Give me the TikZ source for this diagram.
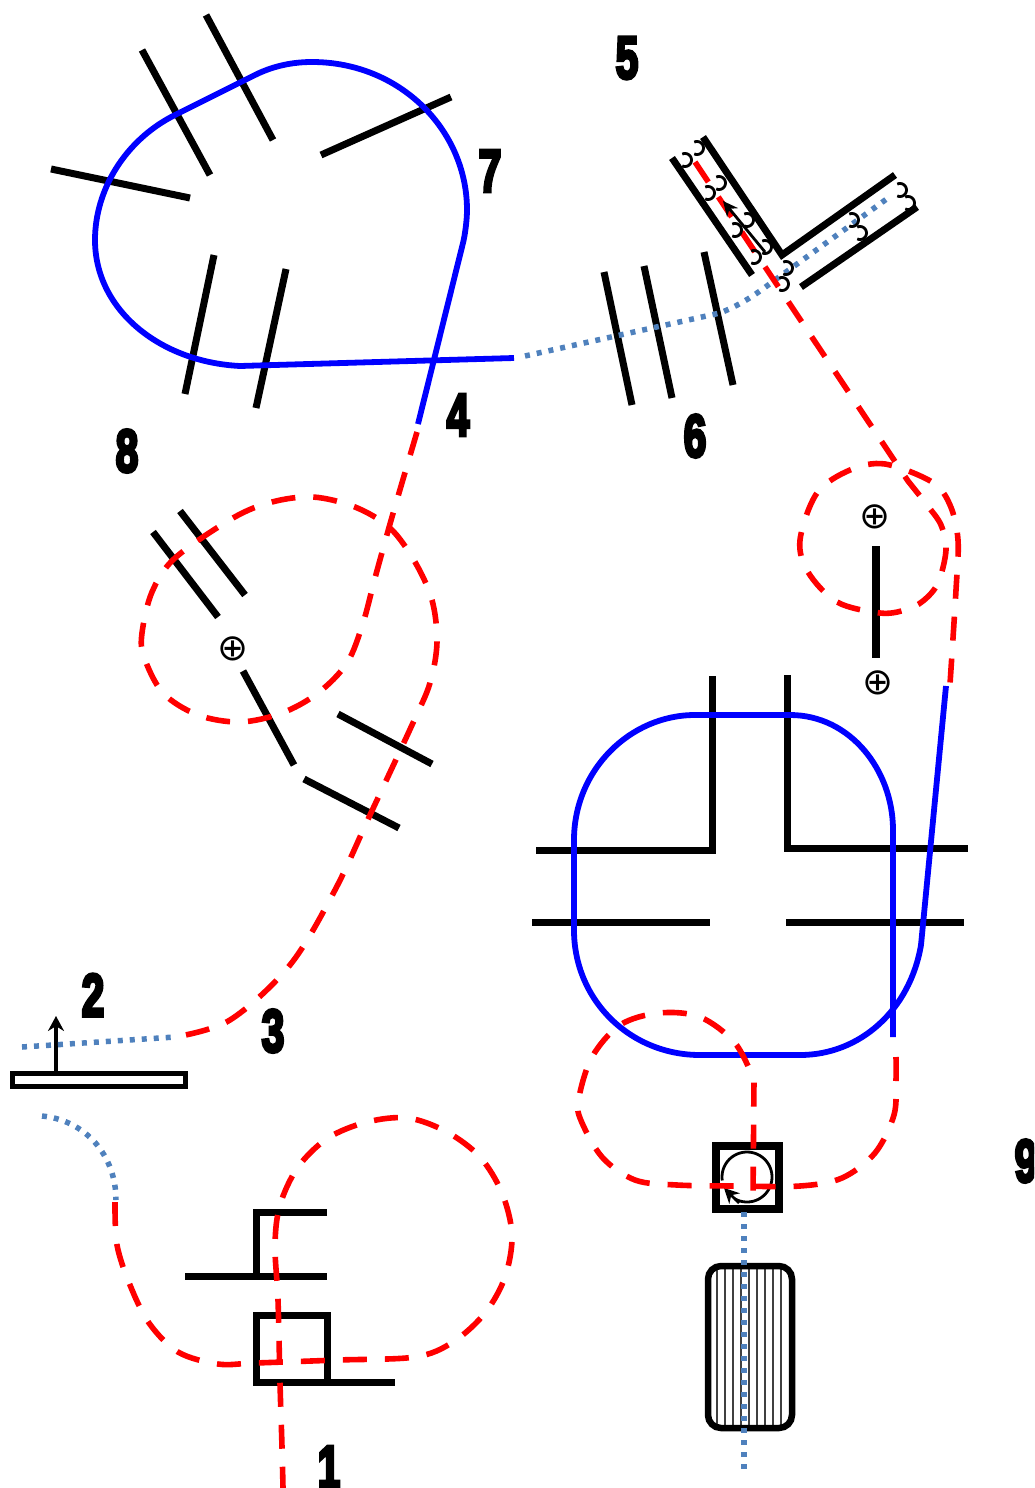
\documentclass[tikz,border=0pt]{standalone}
\usepackage{fontspec}
\usepackage{graphicx}
\usetikzlibrary{arrows.meta}
\newfontfamily\numf{Liberation Sans}[BoldFeatures={FakeBold=6}]
\newfontfamily\symf{DejaVu Sans}
\definecolor{dotblue}{RGB}{79,129,189}
\newcommand{\hookat}[2]{\draw[hookline] plot[domain=-115:115,samples=17] ({#1+6.5*cos(\x)},{#2+6.5*sin(\x)});}
\tikzset{
  thick black/.style={draw=black,line width=7pt},
  blue line/.style={draw=blue,line width=5.8pt},
  red dash/.style={draw=red,line width=5.6pt,dash pattern=on 24pt off 18pt},
  blue dots/.style={draw=dotblue,line width=5.5pt,dash pattern=on 5pt off 7pt},
  hookline/.style={draw=black,line width=2.8pt},
  numlabel/.style={inner sep=0pt,font={\fontsize{60}{60}\numf\bfseries}},
  plus mark/.style={inner sep=0pt,font={\fontsize{37}{37}\symf}},
  thin arrow/.style={draw=black,line width=2.8pt,-{Stealth[length=15pt,width=14pt]}},
}
\newcommand{\num}[1]{\scalebox{0.68}[1]{#1}}
\begin{document}
\begin{tikzpicture}[x=1pt,y=-1pt]
\useasboundingbox (0,0) rectangle (1034,1488);
\clip (0,0) rectangle (1034,1488);
% black plates, top left
\draw[thick black] (206,15) -- (273,140);
\draw[thick black] (142,50) -- (210,175);
\draw[thick black] (51,169) -- (190,198);
\draw[thick black] (321,155) -- (451,97);
\draw[thick black] (214,255) -- (185,394);
\draw[thick black] (286,269) -- (256,408);
% three plates
\draw[thick black] (604,272) -- (632,405);
\draw[thick black] (644,266) -- (672,398);
\draw[thick black] (704,252) -- (733,385);
% channel
\draw[thick black] (672,158) -- (752,275);
\draw[thick black,line join=miter] (703,137) -- (782,255) -- (895,175);
\draw[thick black] (801,287) -- (917,207);
% middle left
\draw[thick black] (153,532) -- (218,617);
\draw[thick black] (180,511) -- (245,595);
\draw[thick black] (243,671) -- (294,765);
\draw[thick black] (338,714) -- (432,764);
\draw[thick black] (304,779) -- (399,828);
\node[plus mark] (p1) at (233,649) {⊕};
\node[plus mark] (p2) at (875,517) {⊕};
\node[plus mark] (p3) at (878,683) {⊕};
\draw[thick black,line width=8pt] (876,546) -- (876,658);
% big right plates
\draw[thick black,line join=miter] (536,850) -- (712,850) -- (712,676);
\draw[thick black,line join=miter] (787,675) -- (787,848) -- (968,848);
\draw[thick black] (532,922) -- (710,922);
\draw[thick black] (786,922) -- (964,922);
% bottom left shapes
\draw[thick black] (185,1276) -- (327,1276);
\draw[thick black,line join=miter] (327,1212) -- (256,1212) -- (256,1276);
\draw[thick black] (256,1315) rectangle (327,1382);
\draw[thick black] (327,1382) -- (395,1382);
% base plate with arrow
\draw[draw=black,line width=5pt] (12,1073) rectangle (185,1086);
\draw[draw=black,line width=4.5pt,-{Stealth[length=15pt,width=16pt]}] (56,1072) -- (56,1016);
% gear box and rotation
\draw[thick black,line width=8pt] (716,1146) rectangle (779,1209);
\draw[draw=black,line width=2.8pt] plot[domain=172:480,samples=60] ({747+25*cos(\x)},{1177+25*sin(\x)});
\coordinate (gearbase) at (739,1203);
\coordinate (geartip) at (724,1188);
\draw[draw=black,line width=2.8pt,-{Stealth[length=15pt,width=15pt]}] (gearbase) -- (geartip);
% tyre
\foreach \tx in {717,725,733,741,749,757,765,773,781}{\draw[draw=black!75,line width=1.6pt] (\tx,1268) -- (\tx,1426);}
\draw[draw=black,line width=6.5pt,rounded corners=13pt] (708,1266) rectangle (792,1428);
% blue loop (top left)
\draw[blue line,line join=round] (514,358) -- (240,366)
  .. controls (160,362) and (95,310) .. (95,240)
  .. controls (95,190) and (125,140) .. (175,115) -- (255,75)
  .. controls (275,65) and (295,62) .. (312,62)
  .. controls (400,62) and (467,130) .. (467,210)
  .. controls (467,220) and (465,235) .. (463,243) -- (418,424);
% blue loop (right)
\draw[blue line,line join=round] (946,686) -- (921,945)
  .. controls (910,1010) and (860,1055) .. (800,1055) -- (700,1055)
  .. controls (630,1055) and (574,1000) .. (574,930) -- (574,840)
  .. controls (574,770) and (630,715) .. (695,715) -- (790,715)
  .. controls (850,715) and (893,770) .. (893,830) -- (893,1037);
% dotted lines
\draw[blue dots] (525,356) -- (720,313) .. controls (745,303) and (760,291) .. (775,280) -- (888,198);
\draw[blue dots] (22,1047) -- (175,1037);
\draw[blue dots] (42,1116) .. controls (85,1120) and (116,1155) .. (116,1200);
\draw[blue dots] (744,1212) -- (744,1472);
% red left path
\draw[red dash] plot[smooth,tension=0.55] coordinates {(417,432) (392,517) (375,578) (363,623) (347,663) (318,693) (282,713) (240,722) (198,715) (163,693) (144,657) (142,633) (152,592) (175,558) (233,518) (272,502) (313,497) (355,507) (390,528) (415,562) (432,600) (437,642) (430,683) (412,725) (370,815) (335,890) (290,965) (230,1020) (175,1037)};
% red bottom left path
\draw[red dash] plot[smooth,tension=0.55] coordinates {(115,1202) (117,1245) (130,1285) (149,1323) (178,1352) (218,1364) (255,1363) (338,1360) (415,1357) (453,1342) (485,1313) (505,1277) (512,1235) (502,1193) (480,1157) (447,1132) (408,1118) (367,1122) (328,1138) (298,1167) (280,1205) (275,1245) (278,1300) (280,1383) (282,1447) (283,1488)};
% red right path
\draw[red dash] (695,162) -- (908,481) -- plot[smooth,tension=0.55] coordinates {(908,481) (927,505) (941,525) (946,550) (938,583) (923,601) (905,610) (880,613) (837,602) (808,572) (800,540) (817,493) (850,470) (885,464) (932,482) (950,505) (958,540) (956,590) (950,684)};
% red bottom right path
\draw[red dash] plot[smooth,tension=0.55] coordinates {(896,1057) (896,1080) (894,1115) (875,1153) (842,1178) (800,1186) (735,1186) (677,1185) (635,1180) (602,1157) (580,1118) (579,1097) (592,1057) (620,1025) (659,1013) (700,1017) (735,1043) (754,1080)} -- (753,1198);
% springs and arrow in the channel
\foreach \a/\b in {697/148,685/160,719/183,708/193,747/220,735/230,765/247,754/257,786/268,782/284,900/190,908/203,852/220,860/233}{\hookat{\a}{\b}}
\draw[thin arrow] (765,252) -- (723,201);
% numbers
\node[numlabel] (n1) at (329,1467) {\num{1}};
\node[numlabel] (n2) at (93,995) {\num{2}};
\node[numlabel] (n3) at (273,1031) {\num{3}};
\node[numlabel] (n4) at (458,415) {\num{4}};
\node[numlabel] (n5) at (627,58) {\num{5}};
\node[numlabel] (n6) at (695,436) {\num{6}};
\node[numlabel] (n7) at (490,171) {\num{7}};
\node[numlabel] (n8) at (127,451) {\num{8}};
\node[numlabel] (n9) at (1026,1161) {\num{9}};
\end{tikzpicture}
\end{document}
